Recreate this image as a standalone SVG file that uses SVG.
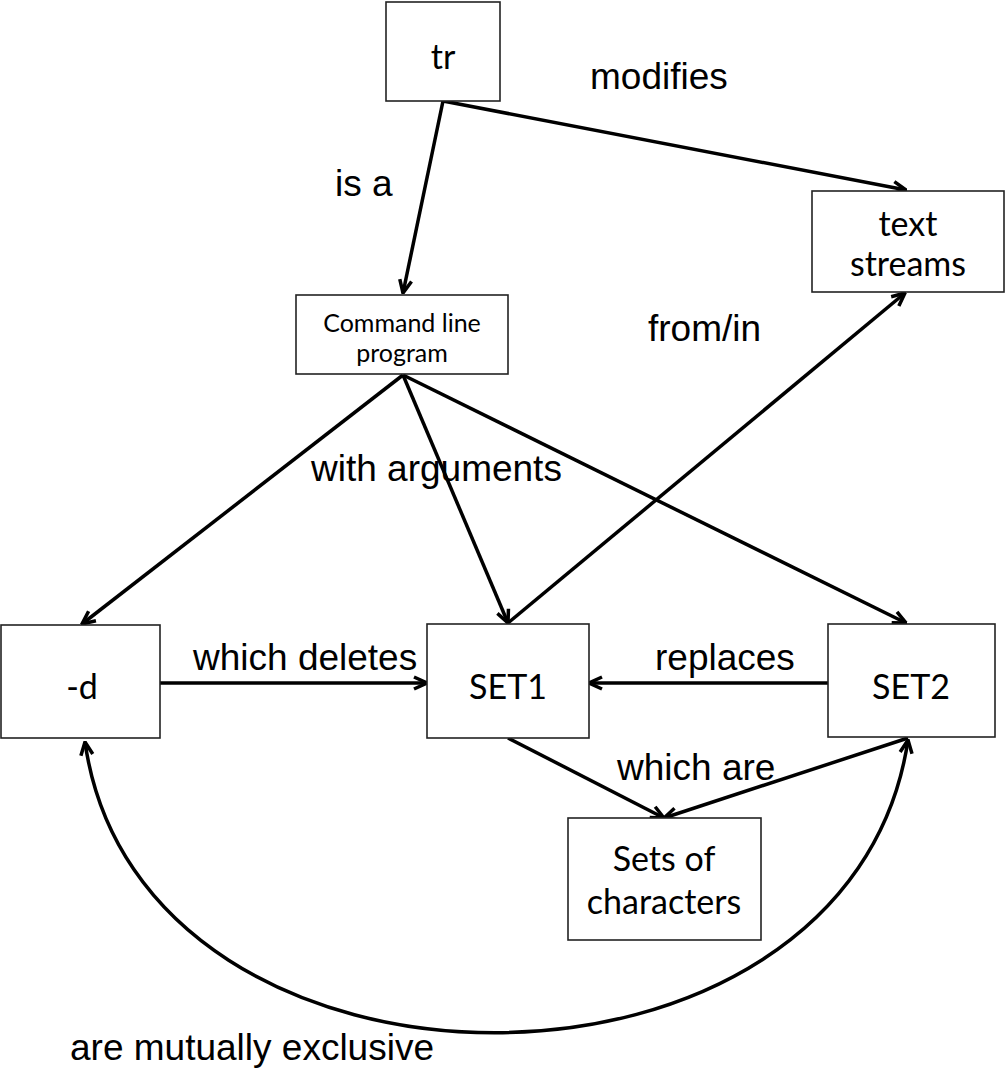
<svg xmlns="http://www.w3.org/2000/svg" width="1006" height="1075" viewBox="0 0 1006 1075">
<style>
.box{fill:#fff;stroke:#222;stroke-width:1.6}
.nt{font-family:Lato,"Open Sans",sans-serif;font-size:34px;fill:#000;text-anchor:middle}
.ns{font-family:Lato,"Open Sans",sans-serif;font-size:25px;fill:#000;text-anchor:middle}
.lb{font-family:"Liberation Sans",Arial,sans-serif;font-size:37px;fill:#000}
.c{fill:none;stroke:#000;stroke-width:3.5}
</style>
<defs>
<marker id="ah" viewBox="0 0 16 16" refX="15" refY="8" markerWidth="16" markerHeight="16" markerUnits="userSpaceOnUse" orient="auto-start-reverse">
<path d="M2,2 L15,8 L2,14" fill="none" stroke="#000" stroke-width="3.5"/>
</marker>
</defs>
<rect width="1006" height="1075" fill="#fff"/>
<g id="connectors">
<line class="c" x1="443" y1="101" x2="403" y2="293" marker-end="url(#ah)"/>
<line class="c" x1="443" y1="101" x2="906" y2="190" marker-end="url(#ah)"/>
<line class="c" x1="403" y1="375" x2="82" y2="624" marker-end="url(#ah)"/>
<line class="c" x1="403" y1="375" x2="508" y2="623" marker-end="url(#ah)"/>
<line class="c" x1="403" y1="375" x2="906" y2="623" marker-end="url(#ah)"/>
<line class="c" x1="508" y1="623" x2="905" y2="293" marker-end="url(#ah)"/>
<line class="c" x1="160" y1="683" x2="427" y2="683" marker-end="url(#ah)"/>
<line class="c" x1="828" y1="683" x2="589" y2="683" marker-end="url(#ah)"/>
<line class="c" x1="508" y1="738" x2="664" y2="818" marker-end="url(#ah)"/>
<line class="c" x1="908" y1="738" x2="664" y2="818" marker-end="url(#ah)"/>
<path class="c" d="M85,742 C140,1130 850,1130 908,740" marker-start="url(#ah)" marker-end="url(#ah)"/>
<text class="lb" x="590" y="89">modifies</text>
<text class="lb" x="335" y="196">is a</text>
<text class="lb" x="648" y="341">from/in</text>
<text class="lb" x="311" y="481">with arguments</text>
<text class="lb" x="193" y="670">which deletes</text>
<text class="lb" x="655" y="670">replaces</text>
<text class="lb" x="617" y="780">which are</text>
<text class="lb" x="70" y="1060">are mutually exclusive</text>
</g>
<g id="tr"><rect class="box" x="386" y="2" width="114" height="99"/><text class="nt" x="443" y="69">tr</text></g>
<g id="text-streams"><rect class="box" x="812" y="191" width="192" height="101"/><text class="nt" x="908" y="236">text</text><text class="nt" x="908" y="276">streams</text></g>
<g id="command-line-program"><rect class="box" x="296" y="295" width="212" height="79"/><text class="ns" x="402" y="332">Command line</text><text class="ns" x="402" y="362">program</text></g>
<g id="d"><rect class="box" x="1" y="625" width="159" height="113"/><text class="nt" x="82" y="699">-d</text></g>
<g id="set1"><rect class="box" x="427" y="624" width="162" height="114"/><text class="nt" x="508" y="699">SET1</text></g>
<g id="set2"><rect class="box" x="828" y="624" width="167" height="113"/><text class="nt" x="911" y="699">SET2</text></g>
<g id="sets-of-characters"><rect class="box" x="568" y="818" width="193" height="122"/><text class="nt" x="664" y="871">Sets of</text><text class="nt" x="664" y="914">characters</text></g>
</svg>
